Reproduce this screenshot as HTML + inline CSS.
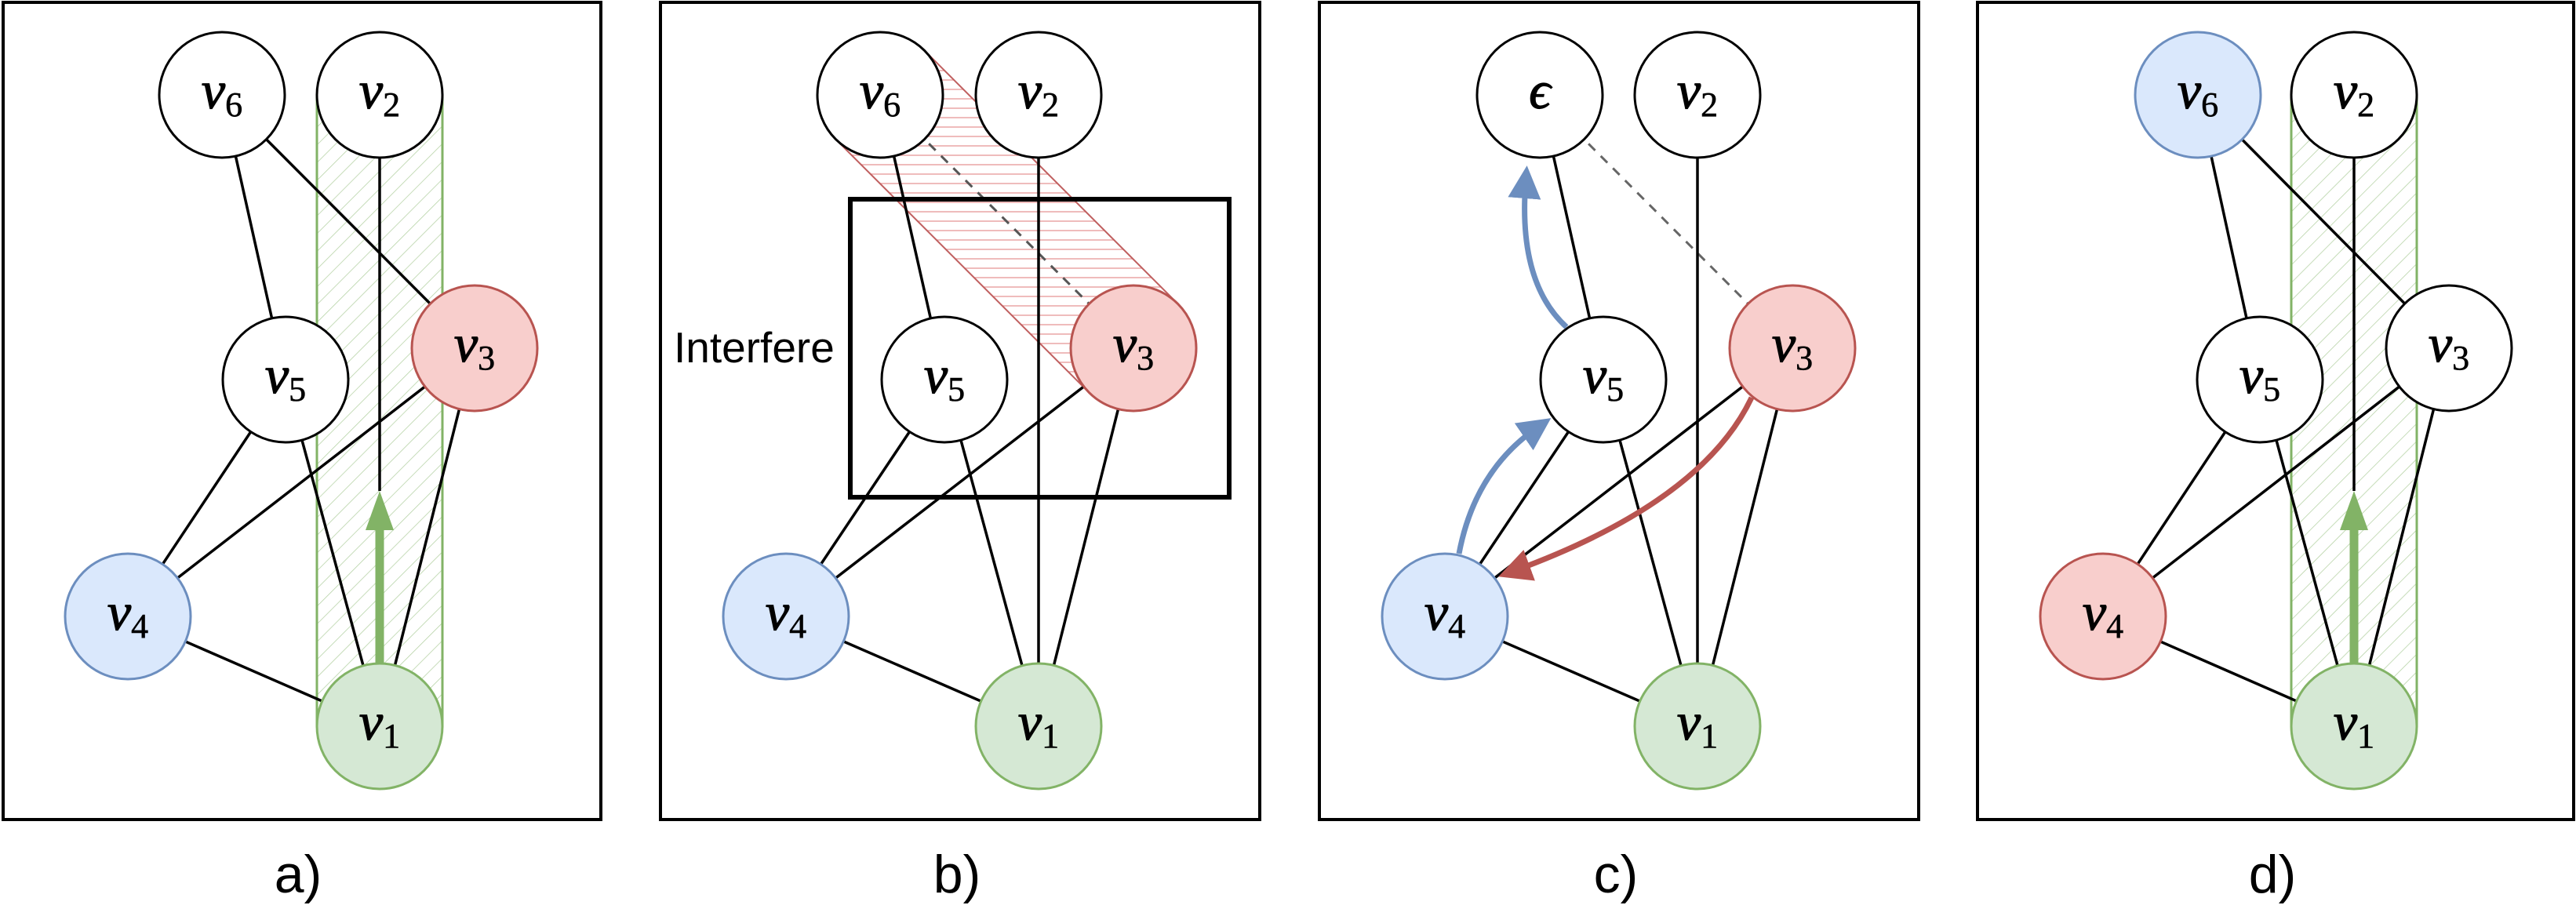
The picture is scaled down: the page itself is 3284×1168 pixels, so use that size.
<!DOCTYPE html>
<html><head><meta charset="utf-8"><style>
html,body{margin:0;padding:0;background:#fff;}
svg{display:block;}
.n{font-family:"Liberation Serif",serif;font-style:italic;font-size:68px;stroke:#000;stroke-width:1.2px;}
.s{font-family:"Liberation Serif",serif;font-style:normal;font-size:44px;stroke-width:0.6px;}
.lab{font-family:"Liberation Sans",sans-serif;font-size:68px;}
</style></head><body>
<svg width="3284" height="1168" viewBox="0 0 3284 1168" xmlns="http://www.w3.org/2000/svg">
<defs>
<pattern id="gh" width="16" height="16" patternUnits="userSpaceOnUse" patternTransform="rotate(45)">
<line x1="0" y1="0" x2="0" y2="16" stroke="#82b366" stroke-width="1.5" opacity="0.6"/></pattern>
<pattern id="rh" width="12" height="12" patternUnits="userSpaceOnUse">
<line x1="0" y1="6" x2="12" y2="6" stroke="#e08080" stroke-width="1.5" opacity="0.7"/></pattern>
<marker id="ab" markerWidth="6" markerHeight="6" refX="3" refY="3" orient="auto" markerUnits="strokeWidth"><path d="M0,0 L6,3 L0,6 z" fill="#6c8ebf"/></marker>
<marker id="ar" markerWidth="6" markerHeight="6" refX="3" refY="3" orient="auto" markerUnits="strokeWidth"><path d="M0,0 L6,3 L0,6 z" fill="#b85450"/></marker>
</defs>
<g fill="none" stroke="#000" stroke-width="4">
<rect x="4" y="3" width="762" height="1042"/>
<rect x="842" y="3" width="764" height="1042"/>
<rect x="1682" y="3" width="764" height="1042"/>
<rect x="2521" y="3" width="760" height="1042"/>
</g>

<!-- Panel a -->
<rect x="404" y="121" width="160" height="805" fill="url(#gh)" stroke="#82b366" stroke-width="3"/>
<g stroke="#000" stroke-width="3.5">
<line x1="283" y1="121" x2="364" y2="484"/>
<line x1="283" y1="121" x2="605" y2="444"/>
<line x1="484" y1="121" x2="484" y2="626"/>
<line x1="605" y1="444" x2="163" y2="786"/>
<line x1="605" y1="444" x2="484" y2="926"/>
<line x1="364" y1="484" x2="163" y2="786"/>
<line x1="364" y1="484" x2="484" y2="926"/>
<line x1="163" y1="786" x2="484" y2="926"/>
</g>
<line x1="484" y1="850" x2="484" y2="670" stroke="#82b366" stroke-width="11"/>
<path d="M466,676 L484,626 L502,676 z" fill="#82b366"/>
<g stroke-width="3">
<circle cx="283" cy="121" r="80" fill="#fff" stroke="#000"/>
<circle cx="484" cy="121" r="80" fill="#fff" stroke="#000"/>
<circle cx="605" cy="444" r="80" fill="#f8cecc" stroke="#b85450"/>
<circle cx="364" cy="484" r="80" fill="#fff" stroke="#000"/>
<circle cx="163" cy="786" r="80" fill="#dae8fc" stroke="#6c8ebf"/>
<circle cx="484" cy="926" r="80" fill="#d5e8d4" stroke="#82b366"/>
</g>
<g class="n" text-anchor="middle">
<text x="283" y="138">v<tspan class="s" dy="10">6</tspan></text>
<text x="484" y="138">v<tspan class="s" dy="10">2</tspan></text>
<text x="605" y="461">v<tspan class="s" dy="10">3</tspan></text>
<text x="364" y="501">v<tspan class="s" dy="10">5</tspan></text>
<text x="163" y="803">v<tspan class="s" dy="10">4</tspan></text>
<text x="484" y="943">v<tspan class="s" dy="10">1</tspan></text>
</g>
<text class="lab" x="380" y="1138" text-anchor="middle">a)</text>

<!-- Panel b -->
<polygon points="1178.6,64.4 1501.6,387.4 1388.4,500.6 1065.4,177.6" fill="url(#rh)" stroke="#c06060" stroke-width="2"/>
<line x1="1122" y1="121" x2="1445" y2="444" stroke="#555" stroke-width="3" stroke-dasharray="12,10"/>
<g stroke="#000" stroke-width="3.5">
<line x1="1122" y1="121" x2="1204" y2="484"/>
<line x1="1324" y1="121" x2="1324" y2="926"/>
<line x1="1445" y1="444" x2="1002" y2="786"/>
<line x1="1445" y1="444" x2="1324" y2="926"/>
<line x1="1204" y1="484" x2="1002" y2="786"/>
<line x1="1204" y1="484" x2="1324" y2="926"/>
<line x1="1002" y1="786" x2="1324" y2="926"/>
</g>
<rect x="1084" y="254" width="483" height="380" fill="none" stroke="#000" stroke-width="6"/>
<text x="859" y="462" font-family="Liberation Sans, sans-serif" font-size="55">Interfere</text>
<g stroke-width="3">
<circle cx="1122" cy="121" r="80" fill="#fff" stroke="#000"/>
<circle cx="1324" cy="121" r="80" fill="#fff" stroke="#000"/>
<circle cx="1445" cy="444" r="80" fill="#f8cecc" stroke="#b85450"/>
<circle cx="1204" cy="484" r="80" fill="#fff" stroke="#000"/>
<circle cx="1002" cy="786" r="80" fill="#dae8fc" stroke="#6c8ebf"/>
<circle cx="1324" cy="926" r="80" fill="#d5e8d4" stroke="#82b366"/>
</g>
<g class="n" text-anchor="middle">
<text x="1122" y="138">v<tspan class="s" dy="10">6</tspan></text>
<text x="1324" y="138">v<tspan class="s" dy="10">2</tspan></text>
<text x="1445" y="461">v<tspan class="s" dy="10">3</tspan></text>
<text x="1204" y="501">v<tspan class="s" dy="10">5</tspan></text>
<text x="1002" y="803">v<tspan class="s" dy="10">4</tspan></text>
<text x="1324" y="943">v<tspan class="s" dy="10">1</tspan></text>
</g>
<text class="lab" x="1220" y="1138" text-anchor="middle">b)</text>

<!-- Panel c -->
<line x1="1963" y1="121" x2="2285" y2="444" stroke="#666" stroke-width="3" stroke-dasharray="12,10"/>
<g stroke="#000" stroke-width="3.5">
<line x1="1963" y1="121" x2="2044" y2="484"/>
<line x1="2164" y1="121" x2="2164" y2="926"/>
<line x1="2285" y1="444" x2="1842" y2="786"/>
<line x1="2285" y1="444" x2="2164" y2="926"/>
<line x1="2044" y1="484" x2="1842" y2="786"/>
<line x1="2044" y1="484" x2="2164" y2="926"/>
<line x1="1842" y1="786" x2="2164" y2="926"/>
</g>
<g stroke-width="3">
<circle cx="1963" cy="121" r="80" fill="#fff" stroke="#000"/>
<circle cx="2164" cy="121" r="80" fill="#fff" stroke="#000"/>
<circle cx="2285" cy="444" r="80" fill="#f8cecc" stroke="#b85450"/>
<circle cx="2044" cy="484" r="80" fill="#fff" stroke="#000"/>
<circle cx="1842" cy="786" r="80" fill="#dae8fc" stroke="#6c8ebf"/>
<circle cx="2164" cy="926" r="80" fill="#d5e8d4" stroke="#82b366"/>
</g>
<path d="M1860,706 Q1880,600 1960,545" fill="none" stroke="#6c8ebf" stroke-width="7" marker-end="url(#ab)"/>
<path d="M1997,417 Q1935,360 1945,232" fill="none" stroke="#6c8ebf" stroke-width="7" marker-end="url(#ab)"/>
<path d="M2233,507 Q2170,640 1930,728" fill="none" stroke="#b85450" stroke-width="7" marker-end="url(#ar)"/>
<g class="n" text-anchor="middle">
<text x="1963" y="138">ϵ</text>
<text x="2164" y="138">v<tspan class="s" dy="10">2</tspan></text>
<text x="2285" y="461">v<tspan class="s" dy="10">3</tspan></text>
<text x="2044" y="501">v<tspan class="s" dy="10">5</tspan></text>
<text x="1842" y="803">v<tspan class="s" dy="10">4</tspan></text>
<text x="2164" y="943">v<tspan class="s" dy="10">1</tspan></text>
</g>
<text class="lab" x="2060" y="1138" text-anchor="middle">c)</text>

<!-- Panel d -->
<rect x="2921" y="121" width="160" height="805" fill="url(#gh)" stroke="#82b366" stroke-width="3"/>
<g stroke="#000" stroke-width="3.5">
<line x1="2802" y1="121" x2="2881" y2="484"/>
<line x1="2802" y1="121" x2="3122" y2="444"/>
<line x1="3001" y1="121" x2="3001" y2="626"/>
<line x1="3122" y1="444" x2="2681" y2="786"/>
<line x1="3122" y1="444" x2="3001" y2="926"/>
<line x1="2881" y1="484" x2="2681" y2="786"/>
<line x1="2881" y1="484" x2="3001" y2="926"/>
<line x1="2681" y1="786" x2="3001" y2="926"/>
</g>
<line x1="3001" y1="850" x2="3001" y2="670" stroke="#82b366" stroke-width="11"/>
<path d="M2983,676 L3001,626 L3019,676 z" fill="#82b366"/>
<g stroke-width="3">
<circle cx="2802" cy="121" r="80" fill="#dae8fc" stroke="#6c8ebf"/>
<circle cx="3001" cy="121" r="80" fill="#fff" stroke="#000"/>
<circle cx="3122" cy="444" r="80" fill="#fff" stroke="#000"/>
<circle cx="2881" cy="484" r="80" fill="#fff" stroke="#000"/>
<circle cx="2681" cy="786" r="80" fill="#f8cecc" stroke="#b85450"/>
<circle cx="3001" cy="926" r="80" fill="#d5e8d4" stroke="#82b366"/>
</g>
<g class="n" text-anchor="middle">
<text x="2802" y="138">v<tspan class="s" dy="10">6</tspan></text>
<text x="3001" y="138">v<tspan class="s" dy="10">2</tspan></text>
<text x="3122" y="461">v<tspan class="s" dy="10">3</tspan></text>
<text x="2881" y="501">v<tspan class="s" dy="10">5</tspan></text>
<text x="2681" y="803">v<tspan class="s" dy="10">4</tspan></text>
<text x="3001" y="943">v<tspan class="s" dy="10">1</tspan></text>
</g>
<text class="lab" x="2897" y="1138" text-anchor="middle">d)</text>
</svg>
</body></html>
